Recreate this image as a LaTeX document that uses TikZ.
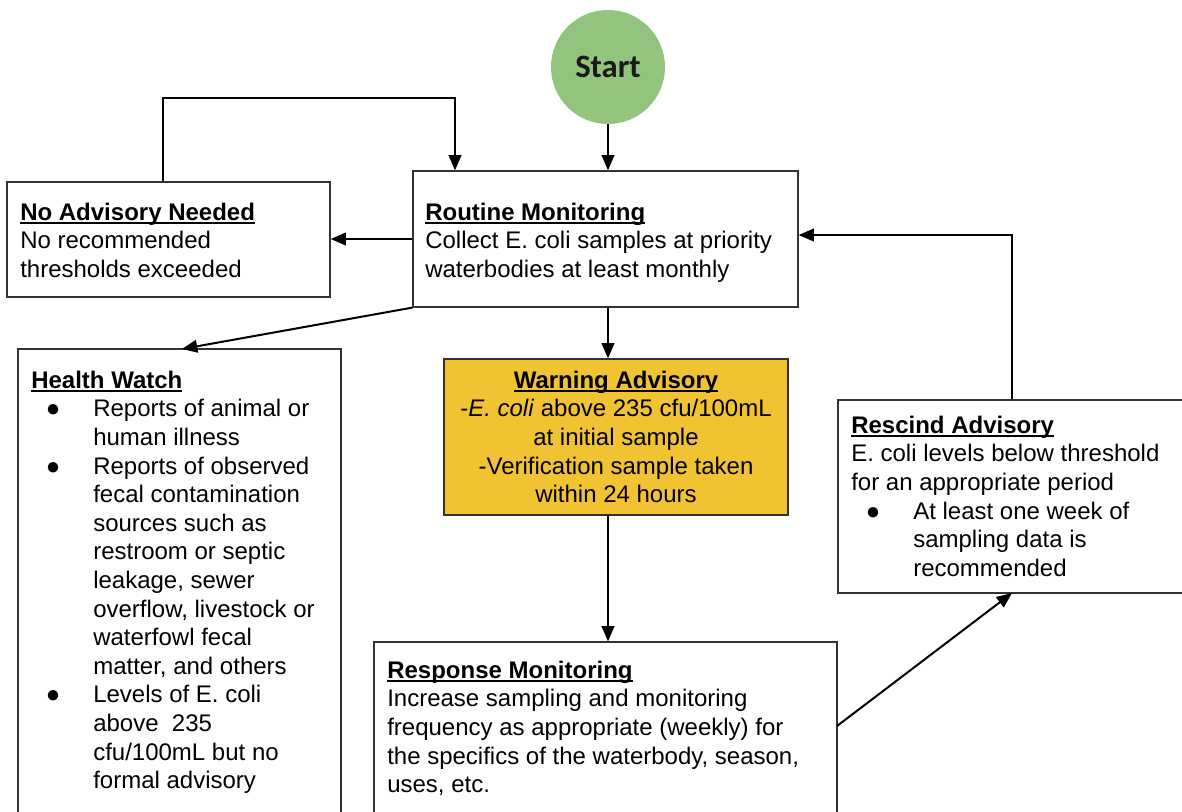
\documentclass[tikz,border=0pt]{standalone}
\usepackage{fontspec}
\setmainfont{Liberation Sans}
\newfontfamily\startfont{Carlito}
\usetikzlibrary{arrows.meta,fit}
\definecolor{startgreen}{HTML}{93C47D}
\definecolor{warnyellow}{HTML}{F1C232}
\definecolor{boxline}{HTML}{333333}
\newcommand\boxtitle[1]{{\setbox0\hbox{\bfseries #1}\rlap{\rule[-2.6pt]{\wd0}{1.3pt}}\box0}}
\newcommand\bul{\makebox[46.5pt][l]{\hspace*{11pt}●}}
\newcommand\ind{\hspace*{46.5pt}}
\begin{document}
\begin{tikzpicture}[x=0.75pt,y=-0.75pt,
 box/.style={draw=boxline,line width=0.9pt,inner sep=0pt},
 txt/.style={anchor=north west,inner sep=0pt,align=left,font=\fontsize{18}{21.45}\selectfont},
 ctxt/.style={anchor=north,inner sep=0pt,align=center,font=\fontsize{18}{21.45}\selectfont},
 arr/.style={line width=1.5pt,-{Triangle[length=11.5pt,width=9.5pt]}}]
\useasboundingbox (0,0) rectangle (1182,811);
\fill[white] (0,0) rectangle (1182,811);
% boxes
\node[box,fit={(7,182) (330,297)}] (na) {};
\node[box,fit={(413,171) (798,307)}] (rm) {};
\node[box,fit={(18,349) (341,830)}] (hw) {};
\node[box,fill=warnyellow,fit={(444,359) (788,515)}] (wa) {};
\node[box,fit={(838,400) (1195,593)}] (ra) {};
\node[box,fit={(374,642) (837,830)}] (rsp) {};
\node[circle,fill=startgreen,minimum size=85.5pt,inner sep=0pt,font=\startfont\bfseries\fontsize{24.5}{28}\selectfont,text=black!90] (start) at (608,67) {Start};
% texts
\node[txt] (natx) at (20,200) {\strut\boxtitle{No Advisory Needed}\\No recommended\\thresholds exceeded};
\node[txt] (rmtx) at (425,200) {\strut\boxtitle{Routine Monitoring}\\Collect E. coli samples at priority\\waterbodies at least monthly};
\node[txt] (hwtx) at (31,368) {\strut\boxtitle{Health Watch}\\
\bul Reports of animal or\\
\ind human illness\\
\bul Reports of observed\\
\ind fecal contamination\\
\ind sources such as\\
\ind restroom or septic\\
\ind leakage, sewer\\
\ind overflow, livestock or\\
\ind waterfowl fecal\\
\ind matter, and others\\
\bul Levels of E. coli\\
\ind above\ \ 235\\
\ind cfu/100mL but no\\
\ind formal advisory};
\node[ctxt] (watx) at (616,368) {\strut\boxtitle{Warning Advisory}\\-\textit{E. coli} above 235 cfu/100mL\\at initial sample\\-Verification sample taken\\within 24 hours};
\node[txt] (ratx) at (851,413) {\strut\boxtitle{Rescind Advisory}\\E. coli levels below threshold\\for an appropriate period\\\bul At least one week of\\\ind sampling data is\\\ind recommended};
\node[txt] (rsptx) at (387,658) {\strut\boxtitle{Response Monitoring}\\Increase sampling and monitoring\\frequency as appropriate (weekly) for\\the specifics of the waterbody, season,\\uses, etc.};
% helper coordinates
\coordinate (l1) at (163,98);
\coordinate (l2) at (455,98);
\coordinate (hwin) at (182,349);
\coordinate (rspout) at (837,726);
\coordinate (rain) at (1012,593);
\coordinate (r1) at (1012,235);
% connectors
\draw[arr] (start.south) -- (start.south |- rm.north);
\draw[arr] (na.north -| l1) -- (l1) -- (l2) -- (l2 |- rm.north);
\draw[arr] (rm.west) -- (rm.west -| na.east);
\draw[arr] (rm.south west) -- (hwin);
\draw[arr] (rm.south -| start) -- (wa.north -| start);
\draw[arr] (wa.south -| start) -- (rsp.north -| start);
\draw[arr] (rspout) -- (rain);
\draw[arr] (ra.north -| r1) -- (r1) -- (r1 -| rm.east);
\end{tikzpicture}
\end{document}
